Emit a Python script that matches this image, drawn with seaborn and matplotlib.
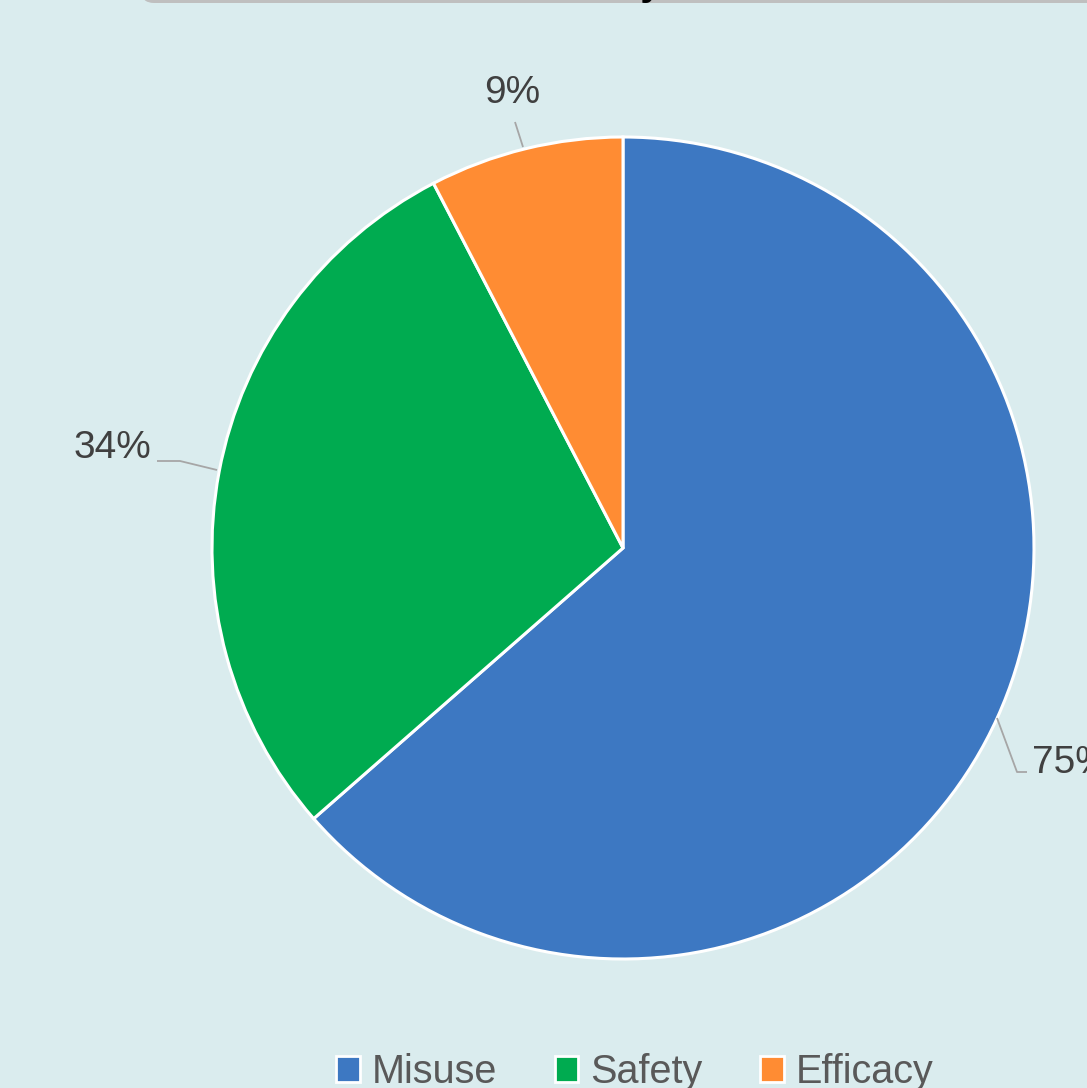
import matplotlib
matplotlib.use("Agg")
import matplotlib.pyplot as plt
from matplotlib.patches import FancyBboxPatch
import seaborn as sns
import numpy as np

categories = ["Misuse", "Safety", "Efficacy"]
values = [75, 34, 9]
labels = ["75%", "34%", "9%"]
colors = ["#3D78C2", "#00AB50", "#FF8C33"]

sns.set_theme(style="white")
plt.rcParams["font.family"] = ["Liberation Sans", "DejaVu Sans"]

bg = "#DAECEE"
W, H = 1087, 1088
R = 411.0  # pie radius in pixels
cx, cy = 623, 548  # pie centre in pixels (from top-left)

fig = plt.figure(figsize=(W / 100, H / 100), dpi=100, facecolor=bg)
ax = fig.add_axes([0, 0, 1, 1])
ax.set_facecolor(bg)

wedges, _ = ax.pie(values, colors=colors, startangle=90, counterclock=False,
                   radius=1.0, center=(0, 0), frame=True,
                   wedgeprops=dict(edgecolor="white", linewidth=2.2))
ax.set_xlim(-cx / R, (W - cx) / R)
ax.set_ylim(-(H - cy) / R, cy / R)
ax.axis("off")


def px(x, y):
    return ((x - cx) / R, (cy - y) / R)


# label layout: text anchor, alignment, leader points (pixels)
layout = {
    "Misuse": dict(text=(1032, 763), ha="left", pts=[(997, 718), (1017, 772), (1027, 772)]),
    "Safety": dict(text=(151, 448), ha="right", pts=[(217, 470), (180, 461), (157, 461)]),
    "Efficacy": dict(text=(512, 93), ha="center", pts=[(523, 147), (515, 122)]),
}

for cat, lab in zip(categories, labels):
    lo = layout[cat]
    tx, ty = px(*lo["text"])
    ax.text(tx, ty, lab, ha=lo["ha"], va="center", fontsize=28, color="#404040")
    pts = np.array([px(*p) for p in lo["pts"]])
    ax.plot(pts[:, 0], pts[:, 1], color="#A6A6A6", lw=1.3, solid_capstyle="butt")

# legend
handles = [plt.Rectangle((0, 0), 1, 1, facecolor=c, edgecolor="white", linewidth=2) for c in colors]
leg = fig.legend(handles, categories, loc="center", bbox_to_anchor=(0.584, 1 - 1072 / H),
                 ncol=3, frameon=False, fontsize=28.5, handlelength=0.6, handleheight=0.6,
                 handletextpad=0.3, columnspacing=1.45, labelcolor="#595959")

# cut-off title box at the top
fig.patches.append(FancyBboxPatch((141 / W, 1 - 3 / H), 1.2, 0.1, boxstyle="round,pad=0,rounding_size=0.012",
                                  transform=fig.transFigure, facecolor="#BFBFBF", edgecolor="none"))
fig.text(662 / W, 1 + 5 / H, "Adverse Event Summary", ha="right", va="baseline",
         fontsize=28, fontweight="bold", color="black")

fig.savefig("out.png", dpi=100, facecolor=bg)
